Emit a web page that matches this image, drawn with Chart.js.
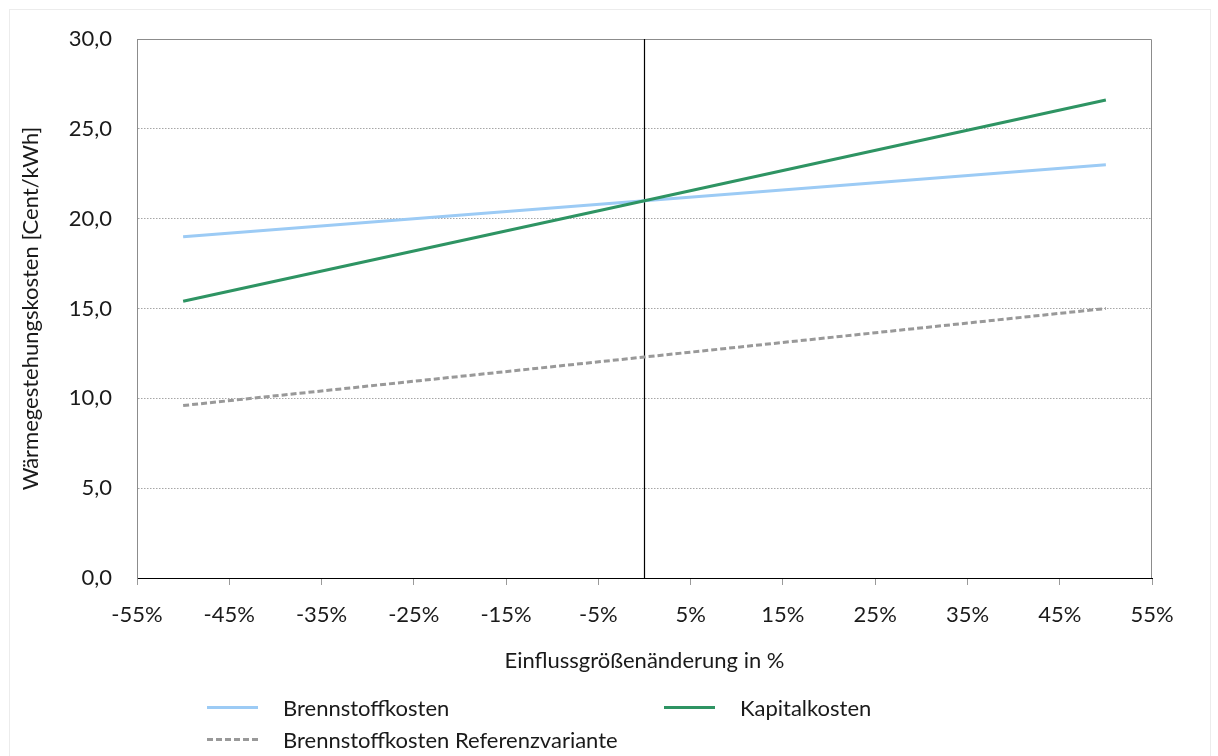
<!DOCTYPE html>
<html>
<head>
<meta charset="utf-8">
<script src="https://cdn.jsdelivr.net/npm/chart.js@4.4.1/dist/chart.umd.min.js"></script>
<style>
    html, body { margin: 0; padding: 0; background: #fff; }
    #wrap { position: relative; width: 1218px; height: 756px; font-family: Lato, "Noto Sans", sans-serif; color: #1a1a1a; }
    #frame { position: absolute; left: 9px; top: 9px; width: 1200px; height: 760px; border: 1px solid #ececec; border-bottom: none; pointer-events: none; }
    #legend { position: absolute; left: 0; top: 702px; width: 1218px; height: 54px; font-size: 22px; }
    .item { position: absolute; display: flex; align-items: center; white-space: nowrap; }
    .swatch { width: 51px; height: 0; margin-right: 25px; }
</style>
</head>
<body>
<div id="wrap">
    <canvas id="chart" width="1218" height="756"></canvas>
    <div id="frame"></div>
    <div id="legend"></div>
</div>
<script>
// Einflussgrößenänderung in %
const xValues = [-50, 0, 50];
// Wärmegestehungskosten [Cent/kWh]
const brennstoffkosten = [19.0, 21.0, 23.0];
const kapitalkosten = [15.4, 21.0, 26.6];
const referenzvariante = [9.6, 12.3, 15.0];
// vertical reference line at 0 %
const nullLinieX = [0, 0];
const nullLinieY = [0, 30];

const seriesNames = ['Brennstoffkosten', 'Kapitalkosten', 'Brennstoffkosten Referenzvariante'];
const seriesColors = ['#9ccbf5', '#2e9463', '#999999'];

const fontFamily = 'Lato, "Noto Sans", sans-serif';
const textColor = '#1a1a1a';

function toPoints(xs, ys) {
    return xs.map((x, i) => ({ x: x, y: ys[i] }));
}

// gray frame around the plot area (top and right side)
const frameBox = {
    id: 'frameBox',
    beforeDatasetsDraw(chart) {
        const a = chart.chartArea;
        const ctx = chart.ctx;
        ctx.save();
        ctx.strokeStyle = '#8c8c8c';
        ctx.lineWidth = 1;
        ctx.beginPath();
        ctx.moveTo(a.left + 0.5, a.bottom);
        ctx.lineTo(a.left + 0.5, a.top + 0.5);
        ctx.lineTo(a.right - 0.5, a.top + 0.5);
        ctx.lineTo(a.right - 0.5, a.bottom);
        ctx.stroke();
        ctx.restore();
    }
};

const ctx = document.getElementById('chart');
new Chart(ctx, {
    type: 'line',
    data: {
        datasets: [
            {
                label: 'Null',
                data: toPoints(nullLinieX, nullLinieY),
                borderColor: '#000000',
                borderWidth: 1.2,
                pointRadius: 0,
                order: 4
            },
            {
                label: seriesNames[2],
                data: toPoints(xValues, referenzvariante),
                borderColor: seriesColors[2],
                borderWidth: 3,
                borderDash: [6, 3],
                pointRadius: 0,
                order: 3
            },
            {
                label: seriesNames[0],
                data: toPoints(xValues, brennstoffkosten),
                borderColor: seriesColors[0],
                borderWidth: 3,
                pointRadius: 0,
                order: 2
            },
            {
                label: seriesNames[1],
                data: toPoints(xValues, kapitalkosten),
                borderColor: seriesColors[1],
                borderWidth: 3,
                pointRadius: 0,
                order: 1
            }
        ]
    },
    options: {
        responsive: false,
        animation: false,
        layout: { padding: { left: 14, top: 39, right: 66, bottom: 76 } },
        plugins: {
            legend: { display: false },
            tooltip: { enabled: false }
        },
        scales: {
            x: {
                type: 'linear',
                min: -55,
                max: 55,
                afterBuildTicks: (scale) => {
                    const t = [];
                    for (let v = -55; v <= 55; v += 10) t.push({ value: v });
                    scale.ticks = t;
                },
                afterFit: (scale) => { scale.height = 102; },
                ticks: {
                    color: textColor,
                    font: { family: fontFamily, size: 22 },
                    padding: 17,
                    maxRotation: 0,
                    callback: (v) => v + '%'
                },
                grid: {
                    drawOnChartArea: false,
                    drawTicks: true,
                    tickLength: 7,
                    tickColor: '#9a9a9a'
                },
                border: { color: '#000000', width: 1 },
                title: {
                    display: true,
                    text: 'Einflussgrößenänderung in %',
                    color: textColor,
                    font: { family: fontFamily, size: 22 },
                    padding: { top: 0, bottom: 6 }
                }
            },
            y: {
                min: 0,
                max: 30,
                afterFit: (scale) => { scale.width = 123; },
                ticks: {
                    stepSize: 5,
                    color: textColor,
                    font: { family: fontFamily, size: 22 },
                    padding: 25,
                    callback: (v) => v.toFixed(1).replace('.', ',')
                },
                grid: {
                    color: '#a6a6a6',
                    lineWidth: 1,
                    drawTicks: false
                },
                border: { color: '#8c8c8c', width: 1, dash: [1.5, 1.5] },
                title: {
                    display: true,
                    text: 'Wärmegestehungskosten [Cent/kWh]',
                    color: textColor,
                    font: { family: fontFamily, size: 22 },
                    padding: { top: 4, bottom: 0 }
                }
            }
        }
    },
    plugins: [frameBox]
});

// legend in two rows like the original
const legendItems = [
    { name: seriesNames[0], color: seriesColors[0], dashed: false, left: 207, top: 6 },
    { name: seriesNames[1], color: seriesColors[1], dashed: false, left: 664, top: 6 },
    { name: seriesNames[2], color: seriesColors[2], dashed: true, left: 207, top: 38 }
];
const legend = document.getElementById('legend');
legendItems.forEach(it => {
    const div = document.createElement('div');
    div.className = 'item';
    div.style.left = it.left + 'px';
    div.style.top = (it.top - 14) + 'px';
    const sw = document.createElement('span');
    sw.className = 'swatch';
    sw.style.borderTop = '3px ' + (it.dashed ? 'dashed ' : 'solid ') + it.color;
    const txt = document.createElement('span');
    txt.textContent = it.name;
    div.appendChild(sw);
    div.appendChild(txt);
    legend.appendChild(div);
});
</script>
</body>
</html>
